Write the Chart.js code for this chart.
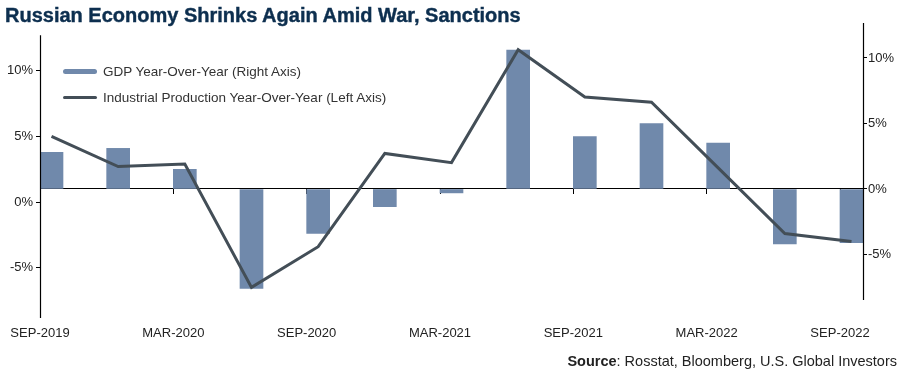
<!DOCTYPE html>
<html>
<head>
<meta charset="utf-8">
<script src="https://cdn.jsdelivr.net/npm/chart.js@4/dist/chart.umd.min.js"></script>
<style>
  html, body { margin: 0; padding: 0; background: #ffffff; }
  #wrap { position: relative; width: 900px; height: 372px; overflow: hidden; }
  #chart { position: absolute; left: 0; top: 0; }
  #title { position: absolute; left: 5px; top: 4px; font: bold 20px "Liberation Sans", Arial, sans-serif; color: #0d2f4f; white-space: nowrap; -webkit-text-stroke: 0.4px #0d2f4f; }
  #legend { position: absolute; left: 63px; top: 58px; font: 13.5px "Liberation Sans", Arial, sans-serif; color: #333; }
  .li { display: flex; align-items: center; height: 26px; white-space: nowrap; }
  .sw { width: 34px; margin-right: 6px; border-radius: 3px; }
  #source { position: absolute; right: 3px; top: 353px; font: 14.5px "Liberation Sans", Arial, sans-serif; color: #222; white-space: nowrap; }
</style>
</head>
<body>
<div id="wrap">
  <canvas id="chart" width="900" height="372"></canvas>
  <div id="title">Russian Economy Shrinks Again Amid War, Sanctions</div>
  <div id="legend"></div>
  <div id="source"><b>Source</b>: Rosstat, Bloomberg, U.S. Global Investors</div>
</div>
<script>
// ---- data ----
const categories = ["SEP-2019","DEC-2019","MAR-2020","JUN-2020","SEP-2020","DEC-2020","MAR-2021","JUN-2021","SEP-2021","DEC-2021","MAR-2022","JUN-2022","SEP-2022"];
const gdpValues = [2.8, 3.1, 1.5, -7.6, -3.4, -1.35, -0.3, 10.6, 4.0, 5.0, 3.5, -4.2, -4.1];   // right axis
const ipValues  = [5.0, 2.7, 2.9, -6.5, -3.4, 3.7, 3.0, 11.6, 8.0, 7.6, 2.6, -2.4, -3.0];     // left axis
const xTickIndices = [0, 2, 4, 6, 8, 10, 12];
const yTickValues = [-5, 0, 5, 10];
const seriesNames = ["GDP Year-Over-Year (Right Axis)", "Industrial Production Year-Over-Year (Left Axis)"];

// ---- style ----
const BAR_COLOR = "#7089ab";
const LINE_COLOR = "#434e57";
const X_PAD = 0.1725;
const AXIS_SPAN = { y: [12.7, -8.83], yR: [12.67, -8.47] };
const tickFont = { family: "'Liberation Sans', Arial, sans-serif", size: 13 };

const setXTicks = s => { s.ticks = xTickIndices.map(i => ({ value: i - X_PAD })); };
const setYTicks = s => { s.ticks = yTickValues.map(v => ({ value: v })); };

const axisLines = {
  id: "axisLines",
  afterDraw(chart) {
    const c = chart.ctx;
    c.save();
    c.strokeStyle = "#000";
    c.lineWidth = 1.2;
    for (const id of Object.keys(AXIS_SPAN)) {
      const s = chart.scales[id];
      const x = (id === "y" ? s.right : s.left) + 0.5;
      c.beginPath();
      c.moveTo(x, s.getPixelForValue(AXIS_SPAN[id][0]));
      c.lineTo(x, s.getPixelForValue(AXIS_SPAN[id][1]));
      c.stroke();
    }
    c.restore();
  }
};

const chart = new Chart(document.getElementById("chart"), {
  data: {
    datasets: [
      {
        type: "line",
        label: seriesNames[1],
        data: ipValues.map((v, i) => ({ x: i, y: v })),
        xAxisID: "x", yAxisID: "y",
        borderColor: LINE_COLOR, borderWidth: 3, pointRadius: 0, tension: 0,
        borderJoinStyle: "miter", order: 0
      },
      {
        type: "bar",
        label: seriesNames[0],
        data: gdpValues.map((v, i) => ({ x: i, y: v })),
        xAxisID: "x", yAxisID: "yR",
        backgroundColor: BAR_COLOR, borderWidth: 0, barThickness: 23, order: 1
      }
    ]
  },
  options: {
    responsive: false,
    animation: false,
    layout: { padding: { top: 23, left: 0, right: 0, bottom: 0 } },
    plugins: { legend: { display: false }, tooltip: { enabled: false } },
    scales: {
      x: {
        type: "linear", position: "bottom", min: -X_PAD, max: 12 + X_PAD, offset: false,
        grid: { display: false }, border: { display: false },
        afterBuildTicks: setXTicks,
        afterFit: s => { s.height = 54; },
        ticks: {
          autoSkip: false, maxRotation: 0, padding: 0, color: "#222", font: tickFont,
          callback: (v, i) => categories[xTickIndices[i]]
        }
      },
      x0: {
        type: "linear", position: { yR: 0 }, min: -X_PAD, max: 12 + X_PAD, offset: false,
        grid: { display: true, drawOnChartArea: false, drawTicks: true, tickLength: 5, color: "#000", lineWidth: 1, offset: false },
        border: { display: true, color: "#000", width: 1 },
        afterBuildTicks: setXTicks,
        ticks: { display: false }
      },
      y: {
        position: "left", min: -8.83, max: 13.63,
        grid: { display: true, drawOnChartArea: false, drawTicks: true, tickLength: 4, color: "#000" },
        border: { display: false },
        afterBuildTicks: setYTicks,
        afterFit: s => { s.width = 40; },
        ticks: { padding: 3, color: "#222", font: tickFont, callback: v => v + "%" }
      },
      yR: {
        position: "right", min: -9.85, max: 12.67,
        grid: { display: true, drawOnChartArea: false, drawTicks: true, tickLength: 4, color: "#000" },
        border: { display: false },
        afterBuildTicks: setYTicks,
        afterFit: s => { s.width = 37; },
        ticks: { padding: 1, color: "#222", font: tickFont, callback: v => v + "%" }
      }
    }
  },
  plugins: [axisLines]
});

// HTML legend built from the chart's datasets (GDP first)
const legend = document.getElementById("legend");
[1, 0].forEach(idx => {
  const ds = chart.data.datasets[idx];
  const row = document.createElement("div");
  row.className = "li";
  const sw = document.createElement("span");
  sw.className = "sw";
  sw.style.height = (ds.type === "bar" ? 5 : 3) + "px";
  sw.style.background = ds.type === "bar" ? ds.backgroundColor : ds.borderColor;
  const tx = document.createElement("span");
  tx.textContent = ds.label;
  row.appendChild(sw);
  row.appendChild(tx);
  legend.appendChild(row);
});
</script>
</body>
</html>
